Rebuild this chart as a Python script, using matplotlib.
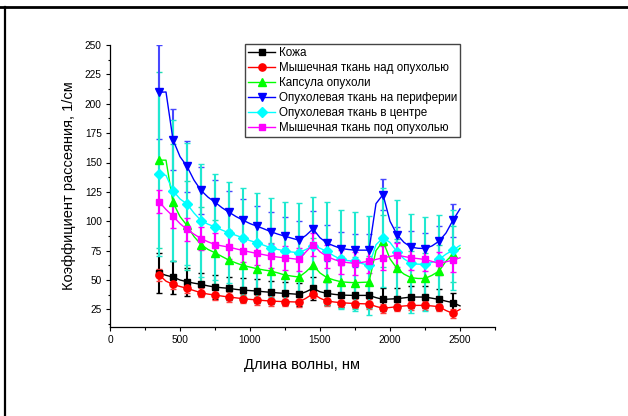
import numpy as np
import matplotlib
matplotlib.use('Agg')
import matplotlib.pyplot as plt
from matplotlib.lines import Line2D
from matplotlib.ticker import MultipleLocator

plt.rcParams['font.family'] = ['Liberation Sans', 'DejaVu Sans']

### Data: line every 50 nm, markers / error bars every 100 nm
wl = list(range(350, 2501, 50))

skin = [56, 54, 52.5, 50, 48.5, 47.3, 46.3, 45, 44, 43.4, 42.9, 42, 41.4, 41, 40.6, 40,
        39.5, 39, 38.6, 38.2, 37.8, 40, 42.9, 40, 38.6, 37.8, 37.2, 37, 36.9, 36.9, 36.9,
        35, 33.5, 33.8, 34.1, 34.8, 35.5, 35.5, 35.5, 34.5, 33.5, 32, 30.7, 28]
muscle_above = [54.5, 49, 46.3, 44.5, 42.9, 41, 39.2, 38, 37.2, 36.3, 35.5, 34.8, 34.1, 33.5,
                33, 32.5, 32.1, 31.8, 31.6, 31.4, 31.2, 34.5, 38.3, 34.5, 32.1, 31.3, 30.7,
                30.3, 30, 29.8, 29.6, 27.5, 25.9, 26.6, 27.3, 27.9, 28.4, 28.4, 28.4, 27.9,
                27.3, 24, 21.6, 25]
capsule = [152, 152, 116, 104, 96.4, 87, 80.2, 76, 73.2, 70, 66.9, 64.5, 62.4, 61, 59.6, 58.5,
           57.6, 56, 54.2, 53.3, 52.5, 57, 62.7, 56, 52, 50, 48.5, 48, 47.7, 48, 48.2, 75, 83,
           68, 59.8, 55, 52, 51.3, 51.3, 54, 57.6, 66, 72, 77]
periphery = [209.8, 210, 169.4, 155, 146.7, 135, 126.3, 120.5, 116.2, 111.5, 107.7, 104, 100.9,
             98, 95.8, 93.5, 91, 89, 87.3, 85.5, 83.9, 88, 93.5, 86, 81.4, 79, 76.8, 76, 75.4,
             75.4, 75.4, 115, 122.7, 100, 88.7, 82, 78, 77, 76.8, 79, 83, 90, 100.9, 110.5]
center = [140.5, 139, 126, 119, 114.7, 107, 100.6, 97.5, 95.2, 92.5, 90.1, 88, 85.9, 83.5, 81.7,
          79.5, 77.4, 76, 74.6, 73.8, 73.2, 76, 79, 77, 74.3, 70.5, 67.5, 66.5, 66, 64, 62.4,
          80, 85.9, 82, 74, 68, 64.1, 63.5, 63.2, 65, 67.5, 72, 75.4, 79.4]
muscle_below = [116.7, 110, 104.3, 98, 93, 89, 85.3, 82.5, 80.2, 79, 78, 76.5, 75.1, 73.8, 72.6,
                71.5, 70.3, 69.5, 68.9, 68.2, 67.5, 74, 80.2, 74, 70, 67.5, 65.5, 64.8, 64.1, 65,
                66, 67.5, 68.9, 70, 71.2, 70, 68.9, 68.2, 67.5, 65.8, 64.1, 65.5, 66.9, 68.9]

err_skin = [17, 14, 12, 10, 10, 10, 10, 10, 10, 10, 10, 10, 10, 10, 10, 10, 10, 9.5, 9.5, 9.5, 9, 8]
err_muscle_above = [5, 4, 4, 4, 4, 4, 4, 4, 4, 4, 4, 4, 4, 4, 4, 4, 4, 4, 4, 4, 4, 4]
err_capsule = [75, 50, 38, 32, 28, 26, 25, 24, 24, 23, 23, 23, 23, 22, 22, 22, 22, 25, 23, 22, 22, 24]
err_periphery = [40, 26, 22, 20, 19, 18, 18, 17, 17, 16, 16, 15, 15, 14, 14, 14, 13, 6, 14, 13, 13, 14]
err_center = [70, 60, 52, 48, 45, 43, 42, 42, 42, 42, 42, 42, 42, 42, 42, 42, 42, 44, 42, 40, 38, 34]
err_muscle_below = [10, 10, 10, 10, 10, 10, 10, 10, 10, 10, 10, 10, 10, 10, 10, 10, 10, 10, 10, 10, 10, 10]

labels = ['Кожа', 'Мышечная ткань над опухолью', 'Капсула опухоли',
          'Опухолевая ткань на периферии', 'Опухолевая ткань в центре',
          'Мышечная ткань под опухолью']

series = [skin, muscle_above, capsule, periphery, center, muscle_below]
errors = [err_skin, err_muscle_above, err_capsule, err_periphery, err_center, err_muscle_below]
colors = ['black', '#ff0000', '#00ff00', '#0000ff', '#00ffff', '#ff00ff']
markers = ['s', 'o', '^', 'v', 'D', 's']
msizes = [4.6, 5.2, 5.2, 5.4, 4.6, 4.6]
barcolors = ['black', '#ff4040', '#20e0b0', '#4848ff', '#20e8d0', '#ff00ff']

### Make plot
fig = plt.figure(figsize=(6.28, 4.16), dpi=100)
ax = fig.add_axes([110/628, 1-327/416, 385/628, 282/416])

x = np.array(wl)
for i in range(len(series)):
    y = np.array(series[i])
    eb = ax.errorbar(x[::2], y[::2], yerr=errors[i], fmt='none', ecolor=barcolors[i],
                     elinewidth=1.5, capsize=2.3, capthick=1.0, zorder=2)
    for cl in eb[1]:
        cl.set_color(colors[i])

for i in range(len(series)):
    ax.plot(x, series[i], color=colors[i], linewidth=1, marker=markers[i],
            markevery=2, markersize=msizes[i], label=labels[i], zorder=4)

ax.set_xlim(0, 2750)
ax.set_ylim(10, 250)
ax.xaxis.set_minor_locator(MultipleLocator(250))
ax.yaxis.set_minor_locator(MultipleLocator(12.5))
ax.set_xticks([0, 500, 1000, 1500, 2000, 2500])
ax.set_yticks(np.arange(25, 251, 25))
ax.tick_params(which='major', direction='out', length=3, width=0.8, labelsize=7.3, pad=3)
ax.tick_params(which='minor', direction='out', length=1.8, width=0.8)

for s in ['top', 'right']:
    ax.spines[s].set_visible(False)
for s in ['left', 'bottom']:
    ax.spines[s].set_linewidth(0.9)

ax.set_xlabel('Длина волны, нм', fontsize=10.5, labelpad=9)
ax.set_ylabel('Коэффициент рассеяния, 1/см', fontsize=10.5, labelpad=6)

leg = ax.legend(loc='upper left', bbox_to_anchor=(0.35, 1.005), fontsize=8.4,
                handlelength=2.3, labelspacing=0.25, borderpad=0.3, handletextpad=0.3,
                fancybox=False, framealpha=1, borderaxespad=0)
leg.get_frame().set_edgecolor('#444444')
leg.get_frame().set_linewidth(1.0)

### Page frame (top and left)
fig.add_artist(Line2D([0, 1], [1-7/416, 1-7/416], color='black', linewidth=2))
fig.add_artist(Line2D([5/628, 5/628], [0, 1-7/416], color='black', linewidth=1.6))

plt.savefig('out.png', dpi=100)
